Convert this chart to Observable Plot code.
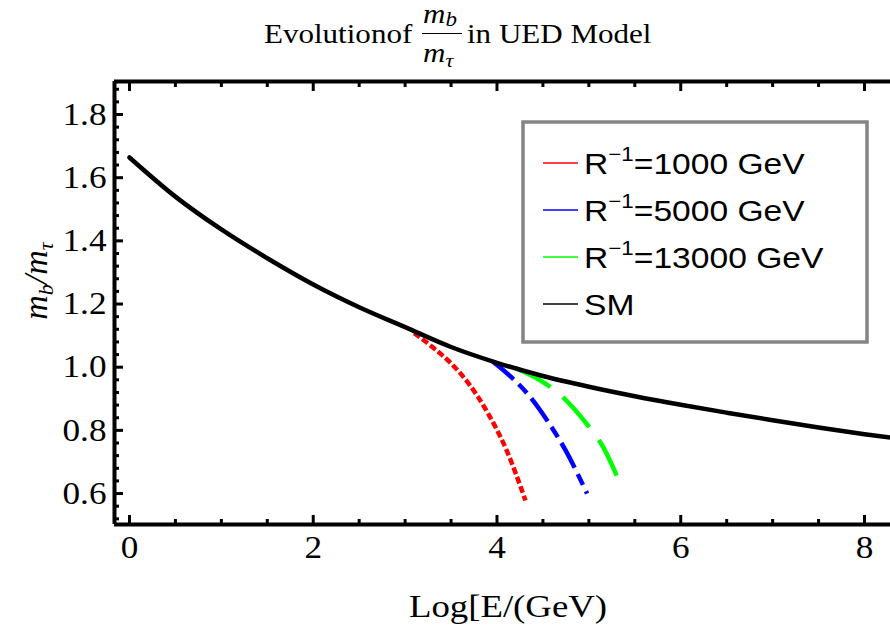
<!DOCTYPE html>
<html>
<head>
<meta charset="utf-8">
<script src="https://cdn.jsdelivr.net/npm/d3@7"></script>
<script src="https://cdn.jsdelivr.net/npm/@observablehq/plot@0.6"></script>
<style>
body { margin: 0; background: #fff; }
#wrap { position: relative; width: 890px; height: 634px; overflow: hidden; background: #fff; }
#title { position: absolute; left: 0; top: 0; }
#chart { position: absolute; left: 0; top: 74px; }
</style>
</head>
<body>
<div id="wrap">
  <svg id="title" width="890" height="74" font-family="'Liberation Serif', serif">
    <text transform="translate(264,43) scale(1.15,1)" font-size="27">Evolutionof</text>
    <text transform="translate(423,23) scale(1.15,1)" font-size="27" font-style="italic">m<tspan font-size="20" dy="3">b</tspan></text>
    <line x1="422" x2="462" y1="33.5" y2="33.5" stroke="black" stroke-width="1"></line>
    <text transform="translate(423,62) scale(1.15,1)" font-size="27" font-style="italic">m<tspan font-size="19" dy="5">τ</tspan></text>
    <text transform="translate(467,43) scale(1.15,1)" font-size="27">in UED Model</text>
  </svg>
  <div id="chart"></div>
</div>
<script>
// ---- axis ticks ----
const xMajor = [0, 2, 4, 6, 8];
const xMinor = [0.5, 1, 1.5, 2.5, 3, 3.5, 4.5, 5, 5.5, 6.5, 7, 7.5];
const yMajor = [0.6, 0.8, 1.0, 1.2, 1.4, 1.6, 1.8];
const yMinor = [0.52, 0.56, 0.64, 0.68, 0.72, 0.76, 0.84, 0.88, 0.92, 0.96, 1.04, 1.08, 1.12, 1.16,
                1.24, 1.28, 1.32, 1.36, 1.44, 1.48, 1.52, 1.56, 1.64, 1.68, 1.72, 1.76, 1.84, 1.88];
const xDomain = [-0.163, 8.283];
const yDomain = [0.502, 1.9045];

// ---- series ----
const smX = [0, 0.5, 1, 1.5, 2, 2.5, 3, 3.5, 4, 4.5, 5, 5.5, 6, 6.5, 7, 7.5, 8, 8.283];
const smY = [1.664, 1.54, 1.436, 1.345, 1.262, 1.19, 1.127, 1.064, 1.014, 0.972, 0.938, 0.908, 0.881, 0.856, 0.832, 0.809, 0.788, 0.777];
const r1000X = [3.1, 3.3, 3.5, 3.7, 3.9, 4.1, 4.31];
const r1000Y = [1.108, 1.063, 1.012, 0.945, 0.855, 0.74, 0.578];
const r5000X = [3.95, 4.15, 4.35, 4.55, 4.75, 4.98];
const r5000Y = [1.019, 0.97, 0.91, 0.83, 0.735, 0.60];
const r13000X = [4.2, 4.45, 4.7, 4.95, 5.15, 5.34];
const r13000Y = [0.997, 0.962, 0.91, 0.83, 0.75, 0.632];

const legendValues = ["1000", "5000", "13000"];
const legendLabels = ["R", "R", "R", "SM"];
const seriesColors = ["#ff0000", "#0000ff", "#00ff00", "#000000"];

const toRows = (xs, ys) => xs.map((x, i) => ({x, y: ys[i]}));
const sm = toRows(smX, smY);
const red = toRows(r1000X, r1000Y);
const blue = toRows(r5000X, r5000Y);
const green = toRows(r13000X, r13000Y);

const OY = 74; // page offset of the plot svg

const chart = Plot.plot({
  width: 890,
  height: 634 - OY,
  marginLeft: 114,
  marginRight: 0,
  marginTop: 81 - OY,
  marginBottom: 110,
  x: {domain: xDomain, label: null},
  y: {domain: yDomain, label: null},
  style: {fontFamily: "'Liberation Serif', serif", fontSize: "32px", color: "black", background: "white", overflow: "visible"},
  marks: [
    Plot.line(red, {x: "x", y: "y", stroke: seriesColors[0], strokeWidth: 4.5, strokeDasharray: "7,3", strokeLinecap: "butt", curve: "monotone-x"}),
    Plot.line(blue, {x: "x", y: "y", stroke: seriesColors[1], strokeWidth: 4.5, strokeDasharray: "28,7,12,7", strokeLinecap: "butt", curve: "monotone-x"}),
    Plot.line(green, {x: "x", y: "y", stroke: seriesColors[2], strokeWidth: 4.5, strokeDasharray: "40,16", strokeLinecap: "butt", curve: "monotone-x"}),
    Plot.line(sm, {x: "x", y: "y", stroke: seriesColors[3], strokeWidth: 4.5, strokeLinecap: "round", curve: "monotone-x"}),
    // frame (left, bottom, top)
    Plot.ruleX([xDomain[0]], {stroke: "black", strokeWidth: 4}),
    Plot.ruleY(yDomain, {stroke: "black", strokeWidth: 4}),
    // inward ticks
    Plot.axisX({ticks: xMajor, tickSize: -9, strokeWidth: 3, fill: "none", tickFormat: () => "", label: null}),
    Plot.axisX({ticks: xMinor, tickSize: -5, strokeWidth: 3, fill: "none", tickFormat: () => "", label: null}),
    Plot.axisX({anchor: "top", ticks: xMajor, tickSize: -9, strokeWidth: 3, fill: "none", tickFormat: () => "", label: null}),
    Plot.axisX({anchor: "top", ticks: xMinor, tickSize: -5, strokeWidth: 3, fill: "none", tickFormat: () => "", label: null}),
    Plot.axisY({ticks: yMajor, tickSize: -9, strokeWidth: 3, fill: "none", tickFormat: () => "", label: null}),
    Plot.axisY({ticks: yMinor, tickSize: -5, strokeWidth: 3, fill: "none", tickFormat: () => "", label: null}),
    // tick labels
    Plot.axisX({ticks: xMajor, tickSize: 0, tickPadding: 11, tickFormat: d3.format("d"), label: null}),
    Plot.axisY({ticks: yMajor, tickSize: 0, tickPadding: 8, tickFormat: d3.format(".1f"), label: null})
  ]
});
document.getElementById("chart").appendChild(chart);

const svg = d3.select(chart);
// horizontal stretch of tick labels to match the reference's wide glyphs
svg.selectAll('g[aria-label="y-axis tick label"] text, g[aria-label="x-axis tick label"] text')
  .attr("transform", function() { return (this.getAttribute("transform") || "") + " scale(1.1,1)"; });

// axis titles
svg.append("text")
  .attr("transform", `translate(508,${617 - OY}) scale(1.15,1)`)
  .attr("text-anchor", "middle")
  .attr("font-family", "'Liberation Serif', serif")
  .attr("font-size", 32)
  .attr("fill", "black")
  .text("Log[E/(GeV)");

const yl = svg.append("text")
  .attr("transform", `translate(47,${281 - OY}) rotate(-90)`)
  .attr("text-anchor", "middle")
  .attr("font-family", "'Liberation Serif', serif")
  .attr("font-size", 34)
  .attr("font-style", "italic")
  .attr("fill", "black");
yl.append("tspan").text("m");
yl.append("tspan").attr("font-size", 22).attr("dy", 6).text("b");
yl.append("tspan").attr("dy", -6).text("/m");
yl.append("tspan").attr("font-size", 22).attr("dy", 6).text("τ");

// legend box
const lg = svg.append("g")
  .attr("font-family", "'Liberation Sans', Arial, sans-serif")
  .attr("text-anchor", "start");
lg.append("rect")
  .attr("x", 523).attr("y", 122 - OY).attr("width", 344).attr("height", 220)
  .attr("fill", "white").attr("stroke", "#858585").attr("stroke-width", 3.5);
legendLabels.forEach((lab, i) => {
  const yLine = 163 + 47 * i - OY;
  lg.append("line")
    .attr("x1", 543).attr("x2", 578).attr("y1", yLine).attr("y2", yLine)
    .attr("stroke", seriesColors[i]).attr("stroke-width", 1.6);
  const t = lg.append("text")
    .attr("text-anchor", "start")
    .attr("transform", `translate(584,${yLine + 11}) scale(1.12,1)`)
    .attr("font-size", 30).attr("fill", "black");
  if (i < legendValues.length) {
    t.append("tspan").text(lab);
    t.append("tspan").attr("font-size", 20).attr("dy", -13).text("−1");
    t.append("tspan").attr("dy", 13).text("=" + legendValues[i] + " GeV");
  } else {
    t.append("tspan").text(lab);
  }
});
</script>
</body>
</html>
